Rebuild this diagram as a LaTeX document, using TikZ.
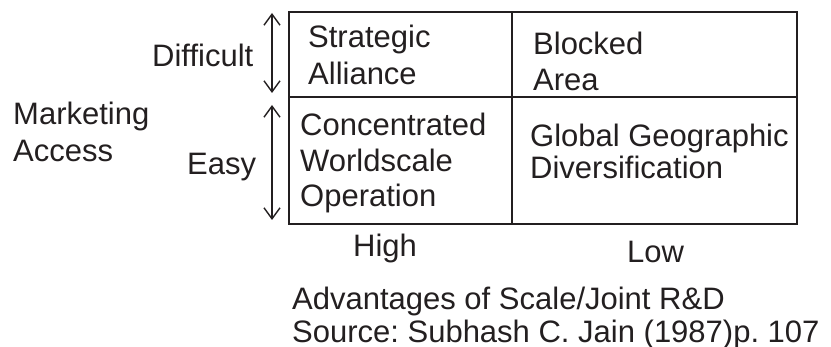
\documentclass[tikz,border=0pt]{standalone}
\usepackage{fontspec}
\setmainfont{Liberation Sans}
\usetikzlibrary{arrows.meta}
\definecolor{ink}{HTML}{231F20}
\frenchspacing
\begin{document}
\begin{tikzpicture}[x=1pt,y=-1pt,
  lbl/.style={inner sep=0pt,anchor=base west,align=left,text=ink,
    font=\fontsize{31}{36}\selectfont},
  frame/.style={draw=ink,line width=1.7pt},
  span/.style={draw=ink,line width=1.4pt,
    {Straight Barb[length=11pt,width=16pt]}-{Straight Barb[length=11pt,width=16pt]}}]
\useasboundingbox (0,0) rectangle (831,347);

% the 2x2 matrix
\draw[frame] (289,12) rectangle (797,224);
\draw[frame] (512,12) -- (512,224);
\draw[frame] (289,97) -- (797,97);

% cell contents (multi-line nodes sit on the baseline of their last line)
\node[lbl,font=\fontsize{31}{37}\selectfont] (sa) at (308,85) {Strategic\\Alliance};
\node[lbl] (ba) at (533,91) {Blocked\\Area};
\node[lbl,font=\fontsize{31}{35.5}\selectfont] (cw) at (300,207) {Concentrated\\Worldscale\\Operation};
\node[lbl,font=\fontsize{31}{32.5}\selectfont] (gg) at (530,179) {Global Geographic\\Diversification};

% vertical axis
\node[lbl,font=\fontsize{31}{37}\selectfont] (ma) at (13,162) {Marketing\\Access};
\node[lbl] (dif) at (152,67) {Difficult};
\node[lbl] (easy) at (187,175) {Easy};
\coordinate (dtop) at (272,13);
\coordinate (dbot) at (272,93);
\coordinate (etop) at (272,105);
\coordinate (ebot) at (272,220);
\draw[span] (dtop) -- (dbot);
\draw[span] (etop) -- (ebot);

% horizontal axis
\node[lbl] (hi) at (353,257) {High};
\node[lbl] (lo) at (627,263) {Low};
\node[lbl] (adv) at (292,310) {Advantages of Scale/Joint R\&D};
\node[lbl] (src) at (292,343) {Source: Subhash C. Jain (1987)p. 107};
\end{tikzpicture}
\end{document}
